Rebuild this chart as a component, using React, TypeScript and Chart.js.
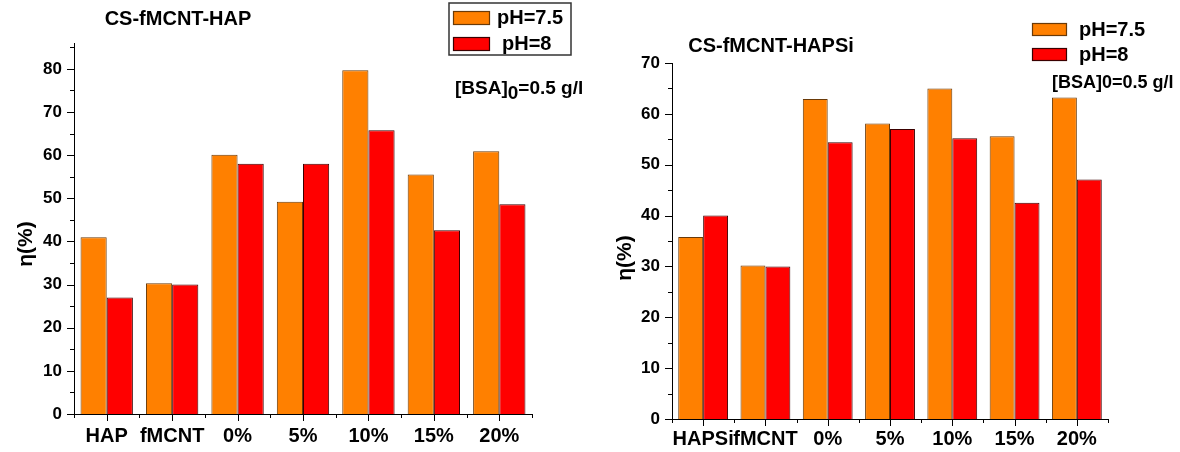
import { useEffect, useRef } from 'react';
import { Chart, registerables } from 'chart.js';

Chart.register(...registerables);

// ---- data ----
const hapCategories = ['HAP', 'fMCNT', '0%', '5%', '10%', '15%', '20%'];
const hapPH75 = [41.0, 30.3, 60.1, 49.2, 79.7, 55.5, 60.9];
const hapPH8 = [27.0, 30.0, 58.0, 58.0, 65.8, 42.6, 48.6];
const hapYTicks = [0, 10, 20, 30, 40, 50, 60, 70, 80];
const hapYMax = 86;

const hapsiCategories = ['HAPSi', 'fMCNT', '0%', '5%', '10%', '15%', '20%'];
const hapsiPH75 = [35.8, 30.2, 62.9, 58.1, 65.0, 55.6, 63.2];
const hapsiPH8 = [40.0, 30.0, 54.4, 57.0, 55.2, 42.5, 47.1];
const hapsiYTicks = [0, 10, 20, 30, 40, 50, 60, 70];
const hapsiYMax = 70;

const seriesLabels = ['pH=7.5', 'pH=8'];
const FONT = '"Liberation Sans", Arial, Helvetica, sans-serif';

type Panel = {
  width: number;
  title: string;
  titleX: number;
  titleY: number;
  yTitleX: number;
  yTitleY: number;
  categories: string[];
  s1: number[];
  s2: number[];
  yTicks: number[];
  yMax: number;
  yAxisWidth: number;
  xAxisHeight: number;
  pad: { left: number; right: number; top: number; bottom: number };
  xLabelPad: number;
  legend: { box: null | [number, number, number, number]; swX: number; swW: number; swH: number; rows: { swY: number; textX: number; textY: number }[] };
  bsa: { x: number; y: number; sub: boolean; size: number };
};

const leftPanel: Panel = {
  width: 600,
  title: 'CS-fMCNT-HAP',
  titleX: 178,
  titleY: 19,
  yTitleX: 26,
  yTitleY: 244,
  categories: hapCategories,
  s1: hapPH75,
  s2: hapPH8,
  yTicks: hapYTicks,
  yMax: hapYMax,
  yAxisWidth: 74,
  xAxisHeight: 38,
  pad: { left: 0, right: 68, top: 43, bottom: 0 },
  xLabelPad: 10,
  legend: {
    box: [449, 3, 122, 52],
    swX: 453,
    swW: 37,
    swH: 14,
    rows: [
      { swY: 11, textX: 497, textY: 18 },
      { swY: 37, textX: 502, textY: 44 },
    ],
  },
  bsa: { x: 455, y: 89, sub: true, size: 19 },
};

const rightPanel: Panel = {
  width: 580,
  title: 'CS-fMCNT-HAPSi',
  titleX: 171,
  titleY: 46,
  yTitleX: 25,
  yTitleY: 258,
  categories: hapsiCategories,
  s1: hapsiPH75,
  s2: hapsiPH8,
  yTicks: hapsiYTicks,
  yMax: hapsiYMax,
  yAxisWidth: 72,
  xAxisHeight: 33,
  pad: { left: 0, right: 72, top: 63, bottom: 0 },
  xLabelPad: 8,
  legend: {
    box: null,
    swX: 432,
    swW: 35,
    swH: 13,
    rows: [
      { swY: 23, textX: 479, textY: 30 },
      { swY: 48, textX: 479, textY: 55 },
    ],
  },
  bsa: { x: 452, y: 83, sub: false, size: 18 },
};

function makeDecor(p: Panel) {
  return {
    id: 'decor',
    afterDraw(chart: any) {
      const ctx: CanvasRenderingContext2D = chart.ctx;
      const area = chart.chartArea;
      const y = chart.scales.y;
      const x = chart.scales.x;
      ctx.save();
      ctx.strokeStyle = '#000';
      ctx.lineWidth = 1;
      // y ticks (major + minor), outward
      for (let v = 0; v <= p.yMax + 1e-9; v += 5) {
        const py = Math.round(y.getPixelForValue(v)) + 0.5;
        const len = v % 10 === 0 ? 7 : 4;
        ctx.beginPath();
        ctx.moveTo(area.left - len, py);
        ctx.lineTo(area.left, py);
        ctx.stroke();
      }
      // x ticks: centers major, boundaries minor
      const n = p.categories.length;
      const w = (area.right - area.left) / n;
      for (let i = 0; i <= n; i++) {
        const px = Math.round(area.left + i * w) + 0.5;
        ctx.beginPath();
        ctx.moveTo(px, area.bottom);
        ctx.lineTo(px, area.bottom + 4);
        ctx.stroke();
      }
      for (let i = 0; i < n; i++) {
        const px = Math.round(x.getPixelForValue(i)) + 0.5;
        ctx.beginPath();
        ctx.moveTo(px, area.bottom);
        ctx.lineTo(px, area.bottom + 7);
        ctx.stroke();
      }

      ctx.fillStyle = '#000';
      // title
      ctx.font = `bold 20px ${FONT}`;
      ctx.textAlign = 'center';
      ctx.textBaseline = 'middle';
      ctx.fillText(p.title, p.titleX, p.titleY);

      // y title
      ctx.save();
      ctx.translate(p.yTitleX, p.yTitleY);
      ctx.rotate(-Math.PI / 2);
      ctx.font = `bold 21px ${FONT}`;
      ctx.fillText('η(%)', 0, 0);
      ctx.restore();

      // legend
      const L = p.legend;
      if (L.box) {
        ctx.strokeStyle = '#333';
        ctx.lineWidth = 1.5;
        ctx.strokeRect(L.box[0], L.box[1], L.box[2], L.box[3]);
      }
      chart.data.datasets.forEach((ds: any, i: number) => {
        const r = L.rows[i];
        ctx.fillStyle = ds.backgroundColor;
        ctx.fillRect(L.swX, r.swY, L.swW, L.swH);
        ctx.strokeStyle = ds.borderColor;
        ctx.lineWidth = 1.2;
        ctx.strokeRect(L.swX + 0.5, r.swY + 0.5, L.swW - 1, L.swH - 1);
        ctx.fillStyle = '#000';
        ctx.font = `bold 20px ${FONT}`;
        ctx.textAlign = 'left';
        ctx.textBaseline = 'middle';
        ctx.fillText(ds.label, r.textX, r.textY);
      });

      // BSA annotation
      ctx.fillStyle = '#000';
      ctx.font = `bold ${p.bsa.size}px ${FONT}`;
      ctx.textAlign = 'left';
      ctx.textBaseline = 'middle';
      if (p.bsa.sub) {
        let cx = p.bsa.x;
        ctx.fillText('[BSA]', cx, p.bsa.y);
        cx += ctx.measureText('[BSA]').width;
        ctx.fillText('0', cx, p.bsa.y + 5);
        cx += ctx.measureText('0').width;
        ctx.fillText('=0.5 g/l', cx, p.bsa.y);
      } else {
        ctx.fillText('[BSA]0=0.5 g/l', p.bsa.x, p.bsa.y);
      }
      ctx.restore();
    },
  };
}

function makeConfig(p: Panel): any {
  return {
    type: 'bar',
    data: {
      labels: p.categories,
      datasets: [
        {
          label: seriesLabels[0],
          data: p.s1,
          backgroundColor: '#FF8000',
          borderColor: '#6a3a08',
          borderWidth: 1,
        },
        {
          label: seriesLabels[1],
          data: p.s2,
          backgroundColor: '#FF0000',
          borderColor: '#3a0000',
          borderWidth: 1,
        },
      ],
    },
    options: {
      responsive: false,
      animation: false,
      devicePixelRatio: 1,
      categoryPercentage: 0.8,
      barPercentage: 1.0,
      layout: { padding: p.pad },
      plugins: {
        legend: { display: false },
        title: { display: false },
        tooltip: { enabled: false },
      },
      scales: {
        x: {
          type: 'category',
          offset: true,
          grid: { display: false, drawTicks: false },
          border: { display: true, color: '#000', width: 1 },
          ticks: {
            autoSkip: false,
            maxRotation: 0,
            minRotation: 0,
            padding: p.xLabelPad,
            color: '#000',
            font: { family: FONT, size: 20, weight: 'bold' },
          },
          afterFit(scale: any) {
            scale.height = p.xAxisHeight;
          },
        },
        y: {
          type: 'linear',
          min: 0,
          max: p.yMax,
          grid: { display: false, drawTicks: false },
          border: { display: true, color: '#000', width: 1 },
          ticks: {
            padding: 12,
            color: '#000',
            font: { family: FONT, size: 17, weight: 'bold' },
          },
          afterBuildTicks(scale: any) {
            scale.ticks = p.yTicks.map((v) => ({ value: v }));
          },
          afterFit(scale: any) {
            scale.width = p.yAxisWidth;
          },
        },
      },
    },
    plugins: [makeDecor(p)],
  };
}

function BarPanel({ panel }: { panel: Panel }) {
  const ref = useRef<HTMLCanvasElement | null>(null);
  useEffect(() => {
    if (!ref.current) return;
    const chart = new Chart(ref.current, makeConfig(panel));
    return () => chart.destroy();
  }, [panel]);
  return (
    <canvas
      ref={ref}
      width={panel.width}
      height={452}
      style={{ display: 'block', width: panel.width, height: 452 }}
    />
  );
}

export default function App() {
  return (
    <div
      style={{
        position: 'fixed',
        left: 0,
        top: 0,
        width: 1180,
        height: 452,
        background: '#fff',
        display: 'flex',
        flexDirection: 'row',
      }}
    >
      <BarPanel panel={leftPanel} />
      <BarPanel panel={rightPanel} />
    </div>
  );
}
